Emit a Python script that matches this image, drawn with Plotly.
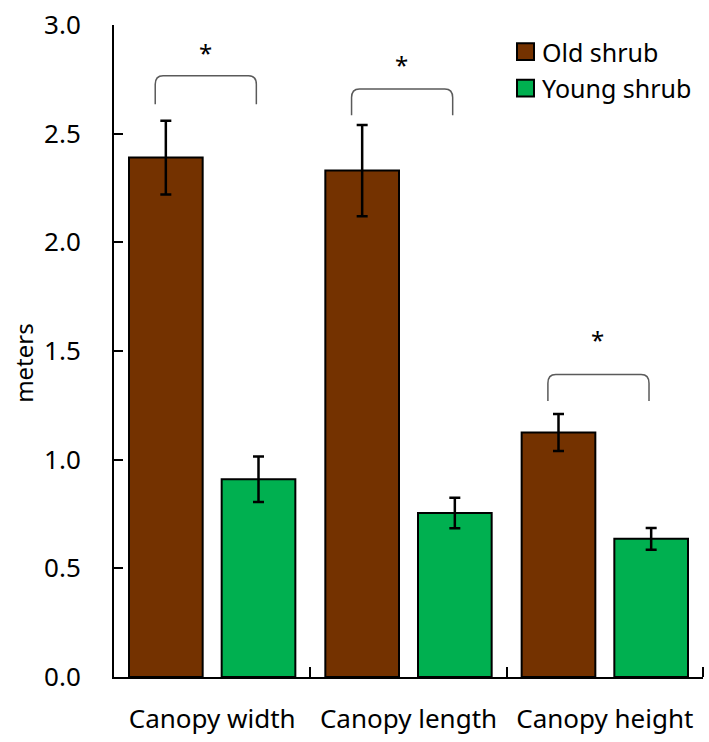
import plotly.graph_objects as go

categories = ["Canopy width", "Canopy length", "Canopy height"]
old_shrub = [2.39, 2.33, 1.125]
old_err = [0.17, 0.21, 0.085]
young_shrub = [0.91, 0.755, 0.636]
young_err = [0.105, 0.07, 0.05]
series_names = ["Old shrub", "Young shrub"]
tick_vals_y = [0, 0.5, 1.0, 1.5, 2.0, 2.5, 3.0]

# significance brackets: (category index, bracket top, bracket bottom, star y)
brackets = [(0, 2.767, 2.635, 2.865), (1, 2.706, 2.585, 2.81), (2, 1.392, 1.27, 1.542)]

BROWN = "#743200"
GREEN = "#00B050"
FONT = "Noto Sans"

W, H = 709, 742
ML, MR, MT, MB = 114, 6, 22, 60
PW, PH = W - ML - MR, H - MT - MB

def px_x(p):
    return (p - ML) / PW

def px_y(p):
    return (H - MB - p) / PH

x = list(range(len(categories)))

fig = go.Figure()
fig.add_trace(go.Bar(
    x=x, y=old_shrub, name=series_names[0],
    marker=dict(color=BROWN, line=dict(color="black", width=2)),
    error_y=dict(type="data", array=old_err, visible=True, color="black", thickness=2.5, width=5.5),
    showlegend=False,
))
fig.add_trace(go.Bar(
    x=x, y=young_shrub, name=series_names[1],
    marker=dict(color=GREEN, line=dict(color="black", width=2)),
    error_y=dict(type="data", array=young_err, visible=True, color="black", thickness=2.5, width=5.5),
    showlegend=False,
))

shapes = []
annotations = []
dx, dy = 0.04, 0.04
for ci, yt, yb, ys in brackets:
    x0, x1 = ci - 0.29, ci + 0.225
    path = (f"M {x0},{yb} L {x0},{yt-dy} Q {x0},{yt} {x0+dx},{yt} "
            f"L {x1-dx},{yt} Q {x1},{yt} {x1},{yt-dy} L {x1},{yb}")
    shapes.append(dict(type="path", path=path, xref="x", yref="y",
                       line=dict(color="#5a5a5a", width=1.5)))
    annotations.append(dict(x=ci - 0.035, y=ys, xref="x", yref="y", text="*",
                            showarrow=False, yshift=2,
                            font=dict(family=FONT, size=24, color="black")))

# legend
for i, (name, col) in enumerate(zip(series_names, [BROWN, GREEN])):
    cy = 49 + i * 37
    shapes.append(dict(type="rect", xref="paper", yref="paper",
                       x0=px_x(517), x1=px_x(534), y0=px_y(cy + 8.5), y1=px_y(cy - 8.5),
                       fillcolor=col, line=dict(color="black", width=2)))
    annotations.append(dict(x=px_x(540), y=px_y(cy), xref="paper", yref="paper",
                            text=name, showarrow=False, xanchor="left", yanchor="middle",
                            font=dict(family=FONT, size=25, color="black")))

annotations.append(dict(x=px_x(24), y=px_y(364), xref="paper", yref="paper",
                        text="meters", textangle=-90, showarrow=False,
                        xanchor="center", yanchor="middle",
                        font=dict(family=FONT, size=24, color="black")))

fig.update_layout(
    width=W, height=H,
    margin=dict(l=ML, r=MR, t=MT, b=MB),
    plot_bgcolor="white", paper_bgcolor="white",
    barmode="group", bargap=0.056, bargroupgap=0.205,
    shapes=shapes, annotations=annotations,
    font=dict(family=FONT, color="black"),
)
fig.update_xaxes(
    range=[-0.5, 2.5], tickmode="array", tickvals=x, ticktext=categories,
    ticks="", showline=True, linecolor="black", linewidth=2, showgrid=False, zeroline=False,
    tickfont=dict(family=FONT, size=26, color="black"), ticklabelstandoff=18,
    minor=dict(tickmode="array", tickvals=[0.5, 1.5, 2.5], ticks="inside", ticklen=10,
               tickwidth=2, tickcolor="black", showgrid=False),
)
fig.update_yaxes(
    range=[0, 3], tickmode="array", tickvals=tick_vals_y, tickformat=".1f",
    ticks="inside", ticklen=9, tickwidth=2, tickcolor="black",
    showline=True, linecolor="black", linewidth=2, showgrid=False, zeroline=False,
    tickfont=dict(family=FONT, size=26, color="black"), ticklabelstandoff=26,
)

fig.write_html(
    "out.html",
    config={"displayModeBar": False},
    post_script="document.body.style.margin='0';document.body.style.overflow='hidden';",
)
